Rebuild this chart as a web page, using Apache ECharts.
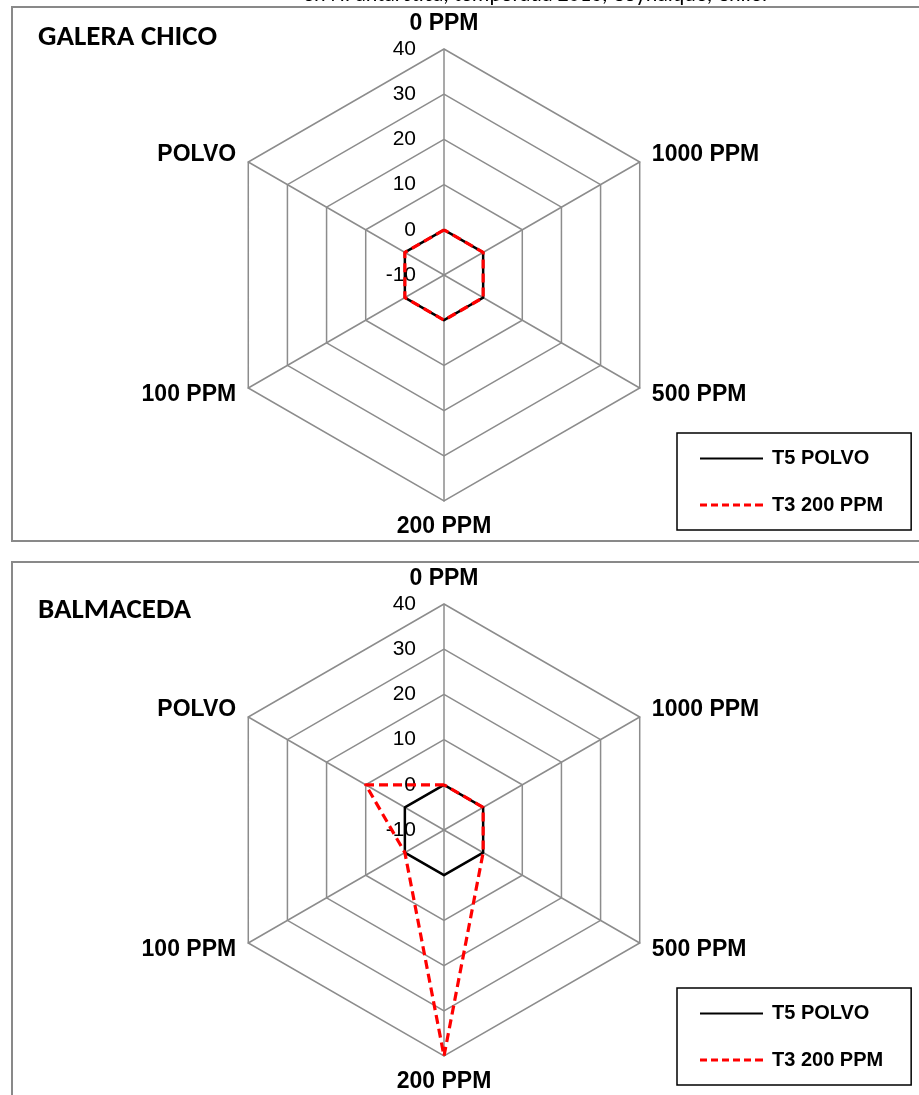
<!DOCTYPE html>
<html>
<head>
<meta charset="utf-8">
<script src="https://cdn.jsdelivr.net/npm/echarts@6/dist/echarts.min.js"></script>
<style>
  html, body { margin: 0; padding: 0; background: #fff; }
  #chart { width: 919px; height: 1095px; }
</style>
</head>
<body>
<div id="chart"></div>
<script>
// ejes del radar (orden antihorario desde arriba, como los coloca echarts)
var indicatorNames = ['0 PPM', 'POLVO', '100 PPM', '200 PPM', '500 PPM', '1000 PPM'];
var axisMin = -10, axisMax = 40, axisStep = 10;

var seriesNames = ['T5 POLVO', 'T3 200 PPM'];
// GALERA CHICO
var galeraT5 = [0, 0, 0, 0, 0, 0];
var galeraT3 = [0, 0, 0, 0, 0, 0];
// BALMACEDA
var balmT5 = [0, 0, 0, 0, 0, 0];
var balmT3 = [0, 10, 0, 40, 0, 0];

var chart = echarts.init(document.getElementById('chart'));

var arial = '"Liberation Sans", Arial, sans-serif';
var calibri = 'Carlito, Lato, "Open Sans", sans-serif';
var gridGray = '#8c8c8c';

var buildRadar = function(cy) {
    return {
        center: [444, cy],
        radius: 226,
        startAngle: 90,
        shape: 'polygon',
        splitNumber: (axisMax - axisMin) / axisStep,
        indicator: indicatorNames.map(function(n, i) {
            var ind = { name: n, min: axisMin, max: axisMax };
            if (i > 0) ind.axisLabel = { show: false };
            return ind;
        }),
        nameGap: 14,
        axisName: {
            color: '#000',
            fontWeight: 'bold',
            fontSize: 23,
            fontFamily: arial
        },
        axisLine: { lineStyle: { color: gridGray, width: 1.5 } },
        splitLine: { lineStyle: { color: gridGray, width: 1.5 } },
        splitArea: { show: false },
        axisTick: { show: false },
        axisLabel: {
            show: true,
            color: '#000',
            fontSize: 21,
            fontFamily: arial,
            margin: 28
        }
    };
};

var buildLegend = function(top) {
    return {
        orient: 'vertical',
        left: 677,
        top: top,
        padding: [15, 28, 15, 23],
        itemGap: 27,
        itemWidth: 63,
        itemHeight: 3,
        backgroundColor: '#fff',
        borderColor: '#000',
        borderWidth: 1.5,
        borderRadius: 0,
        itemStyle: { borderWidth: 0 },
        textStyle: { color: '#000', fontWeight: 'bold', fontSize: 20, fontFamily: arial, padding: [0, 0, 0, 4] },
        data: [
            { name: seriesNames[0], icon: 'path://M0,0h63v0.01h-63z M0,1h63v2h-63z' },
            { name: seriesNames[1], icon: 'path://M0,0h7v3h-7z M11,0h7v3h-7z M22,0h7v3h-7z M33,0h7v3h-7z M44,0h7v3h-7z M55,0h8v3h-8z' }
        ]
    };
};

var buildSeries = function(radarIndex, t5, t3) {
    return {
        type: 'radar',
        radarIndex: radarIndex,
        symbol: 'none',
        silent: true,
        data: [
            { name: seriesNames[0], value: t5, itemStyle: { color: '#000' }, lineStyle: { color: '#000', width: 2.5, type: 'solid' } },
            { name: seriesNames[1], value: t3, itemStyle: { color: '#ff0000' }, lineStyle: { color: '#ff0000', width: 3.2, type: [9, 5] } }
        ]
    };
};

var option = {
    animation: false,
    backgroundColor: '#fff',
    title: [
        { text: 'en N. antarctica, temporada 2016, Coyhaique, Chile.', left: 298, top: -21,
          textStyle: { fontFamily: calibri, fontWeight: 'normal', fontSize: 22, color: '#000' } },
        { text: 'GALERA CHICO', left: 33, top: 18,
          textStyle: { fontFamily: calibri, fontWeight: 'bold', fontSize: 29, color: '#000' } },
        { text: 'BALMACEDA', left: 33, top: 591,
          textStyle: { fontFamily: calibri, fontWeight: 'bold', fontSize: 29, color: '#000' } }
    ],
    graphic: [
        { type: 'rect', z: -10, shape: { x: 12, y: 7, width: 930, height: 534 },
          style: { fill: '#fff', stroke: '#898989', lineWidth: 2 } },
        { type: 'rect', z: -10, shape: { x: 12, y: 562, width: 930, height: 560 },
          style: { fill: '#fff', stroke: '#898989', lineWidth: 2 } }
    ],
    legend: [buildLegend(433), buildLegend(988)],
    radar: [buildRadar(275), buildRadar(830)],
    series: [
        buildSeries(0, galeraT5, galeraT3),
        buildSeries(1, balmT5, balmT3)
    ]
};

chart.setOption(option);
</script>
</body>
</html>
